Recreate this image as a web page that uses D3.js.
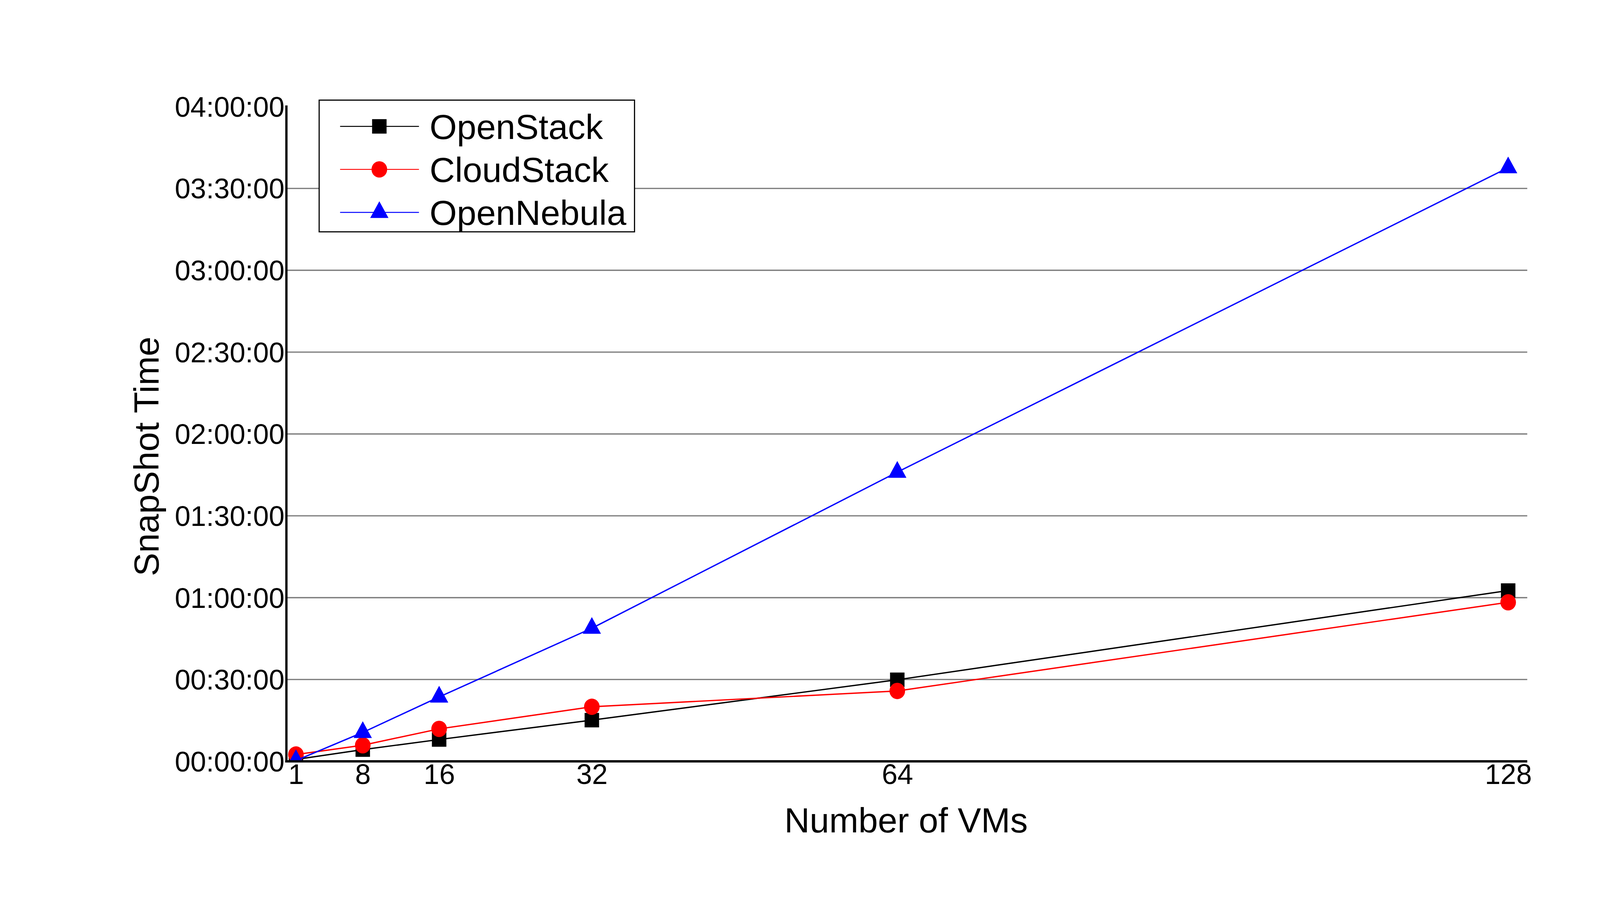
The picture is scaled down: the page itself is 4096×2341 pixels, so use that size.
<!DOCTYPE html>
<meta charset="utf-8">
<script src="https://d3js.org/d3.v7.min.js"></script>
<style>
	body {
		margin: 0;
		padding: 0;
		background: #fff;
		overflow: hidden;
	}
	text {
		font-family: "Liberation Sans", Arial, sans-serif;
		fill: #000;
	}
</style>
<div id="chart"></div>
<script>
	// values, times in minutes
	const vms = [1, 8, 16, 32, 64, 128];
	const openStack = [0.7, 4.3, 8.0, 15.1, 29.9, 62.6];
	const cloudStack = [2.5, 5.9, 11.9, 20.0, 25.8, 58.3];
	const openNebula = [0.3, 10.6, 23.6, 48.8, 106.0, 217.6];
	const seriesNames = ["OpenStack", "CloudStack", "OpenNebula"];
	const yTicks = [0, 30, 60, 90, 120, 150, 180, 210, 240];

	const series = [
		{ name: seriesNames[0], values: openStack, color: "#000000", shape: "square" },
		{ name: seriesNames[1], values: cloudStack, color: "#ff0000", shape: "circle" },
		{ name: seriesNames[2], values: openNebula, color: "#0000ff", shape: "triangle" },
	];

	// drawn in the reference's 4200x2400 space, scaled down by the viewBox
	const W = 4200, H = 2400;
	const svg = d3.select("#chart").append("svg")
		.attr("width", W * 0.975)
		.attr("height", H * 0.975)
		.attr("viewBox", `0 0 ${W} ${H}`);

	const plotL = 752, plotR = 4010, plotT = 280, plotB = 2000;

	const x = d3.scaleLinear().domain([0, 130]).range([plotL, plotR]);
	const y = d3.scaleLinear().domain([0, 240]).range([plotB, plotT]);

	const fmt = m => {
		const h = Math.floor(m / 60), mm = m % 60;
		return `${String(h).padStart(2, "0")}:${String(mm).padStart(2, "0")}:00`;
	};

	// gridlines
	svg.append("g")
		.selectAll("line")
		.data(yTicks.filter(t => t > 0 && t < 240))
		.join("line")
		.attr("x1", plotL).attr("x2", plotR)
		.attr("y1", d => y(d)).attr("y2", d => y(d))
		.attr("stroke", "#808080")
		.attr("stroke-width", 3.5);

	// y tick labels
	const yAxis = svg.append("g")
		.attr("transform", `translate(${plotL - 2},0)`)
		.call(d3.axisLeft(y).tickValues(yTicks).tickFormat(fmt).tickSize(0).tickPadding(3));
	yAxis.select(".domain").remove();
	yAxis.selectAll("text")
		.attr("font-size", 74)
		.attr("font-family", "Liberation Sans, Arial, sans-serif")
		.attr("fill", "#000")
		.attr("dy", "0.35em");

	// x tick labels
	const xAxis = svg.append("g")
		.attr("transform", `translate(0,${plotB})`)
		.call(d3.axisBottom(x).tickValues(vms).tickFormat(d3.format("d")).tickSize(0).tickPadding(6));
	xAxis.select(".domain").remove();
	xAxis.selectAll("text")
		.attr("font-size", 74)
		.attr("font-family", "Liberation Sans, Arial, sans-serif")
		.attr("fill", "#000")
		.attr("dy", "0.72em");

	// plot area clip
	svg.append("clipPath").attr("id", "plot")
		.append("rect")
		.attr("x", plotL).attr("y", plotT - 40)
		.attr("width", plotR - plotL + 40).attr("height", plotB - plotT + 40);

	const sq = 38, rad = 21, triW = 48, triH = 44;
	function marker(g, shape, color, cx, cy) {
		if (shape === "square") {
			g.append("rect")
				.attr("x", cx - sq / 2).attr("y", cy - sq / 2)
				.attr("width", sq).attr("height", sq)
				.attr("fill", color);
		} else if (shape === "circle") {
			g.append("ellipse")
				.attr("cx", cx).attr("cy", cy)
				.attr("rx", rad - 0.5).attr("ry", rad + 0.5)
				.attr("fill", color);
		} else {
			const ty = cy - triH * 2 / 3;
			g.append("path")
				.attr("d", `M${cx},${ty}L${cx + triW / 2},${ty + triH}L${cx - triW / 2},${ty + triH}Z`)
				.attr("fill", color);
		}
	}

	const line = d3.line().x(d => x(d[0])).y(d => y(d[1]));
	const plot = svg.append("g").attr("clip-path", "url(#plot)");
	for (const s of series) {
		const pts = vms.map((v, i) => [v, s.values[i]]);
		const g = plot.append("g");
		g.append("path")
			.attr("d", line(pts))
			.attr("fill", "none")
			.attr("stroke", s.color)
			.attr("stroke-width", 3.5);
		for (const p of pts) marker(g, s.shape, s.color, x(p[0]), y(p[1]));
	}

	// axis lines
	svg.append("line")
		.attr("x1", plotL).attr("x2", plotL)
		.attr("y1", plotT - 3).attr("y2", plotB + 3)
		.attr("stroke", "#000").attr("stroke-width", 6);
	svg.append("line")
		.attr("x1", plotL - 3).attr("x2", plotR)
		.attr("y1", plotB).attr("y2", plotB)
		.attr("stroke", "#000").attr("stroke-width", 6);

	// axis titles
	svg.append("text")
		.attr("x", 2379).attr("y", 2187)
		.attr("text-anchor", "middle")
		.attr("font-size", 92)
		.text("Number of VMs");
	svg.append("text")
		.attr("transform", "translate(416,1199) rotate(-90)")
		.attr("text-anchor", "middle")
		.attr("font-size", 92)
		.text("SnapShot Time");

	// legend
	const legend = svg.append("g");
	legend.append("rect")
		.attr("x", 838).attr("y", 263)
		.attr("width", 828).attr("height", 346)
		.attr("fill", "#fff")
		.attr("stroke", "#000")
		.attr("stroke-width", 3);
	series.forEach((s, i) => {
		const cy = 332 + i * 113;
		legend.append("line")
			.attr("x1", 893).attr("x2", 1100)
			.attr("y1", cy).attr("y2", cy)
			.attr("stroke", s.color).attr("stroke-width", 2.5);
		marker(legend, s.shape, s.color, 996, cy);
		legend.append("text")
			.attr("x", 1128).attr("y", cy + 33)
			.attr("font-size", 92)
			.text(s.name);
	});
</script>
